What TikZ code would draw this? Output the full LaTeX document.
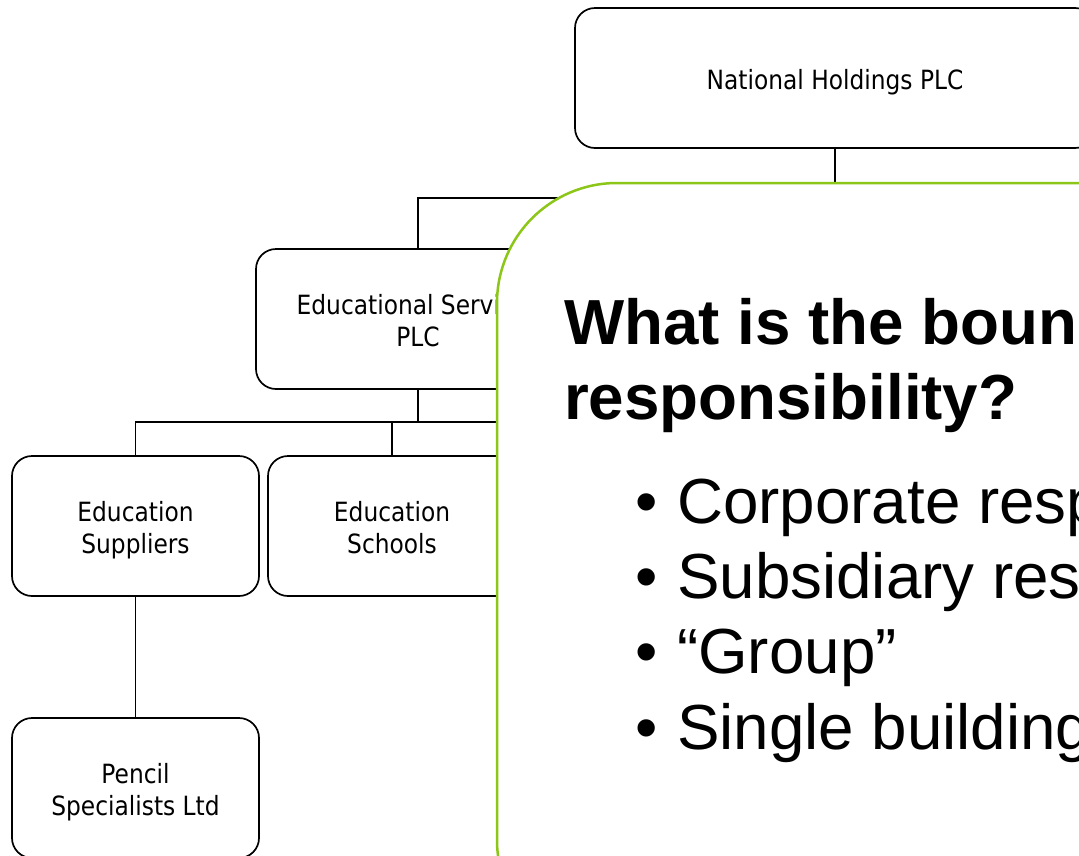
\documentclass[tikz,border=0pt]{standalone}
\usepackage{fontspec}
\setmainfont{Liberation Sans}
\newfontfamily\boxfont{DejaVu Sans}[FakeStretch=0.88]
\definecolor{leaf}{RGB}{140,198,24}
\begin{document}
\begin{tikzpicture}[x=1pt,y=-1pt,
  orgbox/.style={draw=black,line width=1.7pt,rounded corners=20pt,fill=white,
    minimum height=140pt,inner sep=0pt},
  boxlabel/.style={inner sep=0pt,align=center,yshift=-5pt,
    font=\boxfont\fontsize{26.5}{32}\selectfont},
  link/.style={draw=black,line width=1.7pt},
  callout/.style={draw=leaf,line width=2.5pt,fill=white,rounded corners=120pt},
  heading/.style={inner sep=0pt,anchor=base west,font=\fontsize{63.7}{75}\selectfont\bfseries},
  bodytext/.style={inner sep=0pt,anchor=base west,font=\fontsize{63.7}{75}\selectfont}]
\useasboundingbox (0,0) rectangle (1079,855);
\clip (0,0) rectangle (1079,855);

% organisation chart (struts keep every label block the same height)
\node[orgbox,minimum width=520pt,label={[boxlabel]center:National Holdings PLC\strut}] (nh) at (835,78) {};
\node[orgbox,minimum width=324pt,label={[boxlabel]center:Educational Services\strut\\PLC\strut}] (es) at (418,319) {};
\node[orgbox,minimum width=247pt,label={[boxlabel]center:Education\strut\\Suppliers\strut}] (sup) at (135.5,526) {};
\node[orgbox,minimum width=248pt,label={[boxlabel]center:Education\strut\\Schools\strut}] (sch) at (392,526) {};
\node[orgbox,minimum width=247pt,label={[boxlabel]center:Pencil\strut\\Specialists Ltd\strut}] (pen) at (135.5,788) {};

\coordinate (b1) at (835,198);
\coordinate (b2) at (418,422);
\coordinate (b2end) at (600,422);

\draw[link] (nh.south) -- (b1) -| (es.north);
\draw[link] (es.south) -- (b2) -| (sup.north);
\draw[link] (b2) -- (b2end);
\draw[link] (sch.north) -- (sch.north |- b2);
\draw[link] (sup.south) -- (pen.north);

% overlaid question panel
\draw[callout] (497,183) rectangle (1250,960);

\node[heading] (q1) at (564,344) {What is the boun};
\node[heading] (q2) at (564,419) {responsibility?};

\node[bodytext] (d1) at (635,523) {•};
\node[bodytext] (t1) at (677,523) {Corporate resp};
\node[bodytext] (d2) at (635,598) {•};
\node[bodytext] (t2) at (677,598) {Subsidiary res};
\node[bodytext] (d3) at (635,673) {•};
\node[bodytext] (t3) at (677,673) {“Group”};
\node[bodytext] (d4) at (635,749) {•};
\node[bodytext] (t4) at (677,749) {Single building};
\end{tikzpicture}
\end{document}
